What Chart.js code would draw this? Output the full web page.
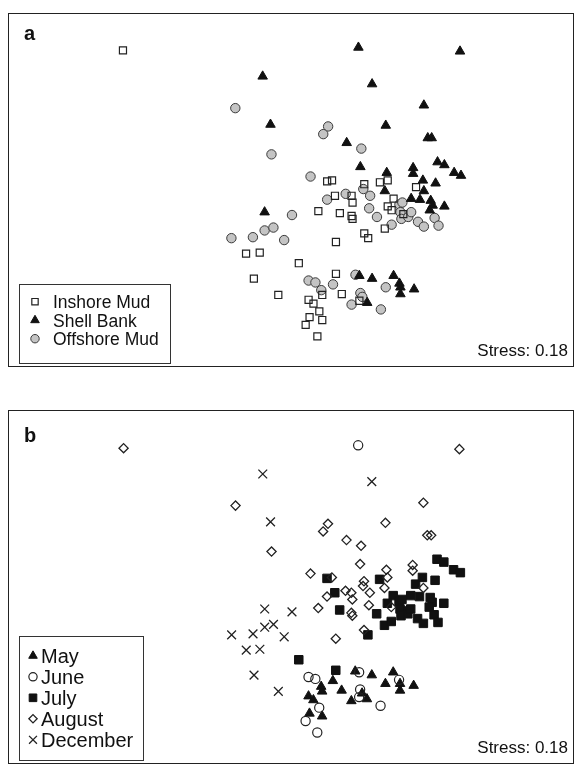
<!DOCTYPE html>
<html>
<head>
<meta charset="utf-8">
<script src="https://cdn.jsdelivr.net/npm/chart.js@4.4.0/dist/chart.umd.min.js"></script>
<style>
  body { margin: 0; background: #fff; }
  .panel { position: absolute; left: 8px; width: 564px; height: 352px; border: 1px solid #222; }
  #pa { top: 13px; }
  #pb { top: 410px; }
  canvas { display: block; }
</style>
</head>
<body>
<div class="panel" id="pa"><canvas id="chartA" width="564" height="352"></canvas></div>
<div class="panel" id="pb"><canvas id="chartB" width="564" height="352"></canvas></div>
<script>
// MDS ordination (plot units, y grows downwards)
const inshoreX = [119, 328, 333, 336, 319, 341, 353, 354, 366, 382, 390, 419, 353, 354, 396, 390, 394, 406, 387, 366, 370, 337, 245, 259, 299, 253, 337, 278, 309, 314, 323, 343, 320, 310, 323, 306, 318, 361];
const inshoreY = [45, 181, 180, 196, 212, 214, 217, 220, 184, 182, 180, 187, 196, 203, 199, 207, 211, 215, 230, 235, 240, 244, 256, 255, 266, 282, 277, 299, 304, 308, 299, 298, 316, 322, 325, 330, 342, 305];
const inshoreMonth = ['Aug', 'Jul', 'Aug', 'Jul', 'Aug', 'Jul', 'Aug', 'Aug', 'Aug', 'Jul', 'Aug', 'Jul', 'Aug', 'Aug', 'Jul', 'Jul', 'Aug', 'Jul', 'Jul', 'Aug', 'Jul', 'Aug', 'Dec', 'Dec', 'Jul', 'Dec', 'Jul', 'Dec', 'May', 'May', 'May', 'May', 'Jun', 'May', 'May', 'Jun', 'Jun', 'Jun'];

const shellX = [360, 464, 262, 374, 427, 270, 388, 348, 431, 435, 441, 448, 458, 465, 362, 389, 416, 416, 426, 439, 387, 427, 414, 423, 434, 436, 448, 433, 264, 361, 374, 396, 402, 403, 403, 417, 369];
const shellY = [42, 46, 72, 80, 102, 122, 123, 141, 136, 136, 161, 164, 172, 175, 166, 172, 167, 173, 180, 183, 191, 191, 199, 200, 201, 206, 207, 211, 213, 279, 282, 279, 287, 291, 298, 293, 307];
const shellMonth = ['Jun', 'Aug', 'Dec', 'Dec', 'Aug', 'Dec', 'Aug', 'Aug', 'Aug', 'Aug', 'Jul', 'Jul', 'Jul', 'Jul', 'Aug', 'Aug', 'Aug', 'Aug', 'Jul', 'Jul', 'Aug', 'Aug', 'Jul', 'Jul', 'Jul', 'Jul', 'Jul', 'Jul', 'Dec', 'Jun', 'May', 'May', 'Jun', 'May', 'May', 'May', 'May'];

const offshoreX = [234, 329, 324, 271, 363, 311, 347, 328, 292, 365, 372, 371, 379, 402, 405, 403, 404, 411, 414, 394, 421, 427, 438, 442, 230, 252, 264, 273, 284, 309, 316, 322, 334, 357, 388, 362, 364, 353, 383];
const offshoreY = [105, 124, 132, 153, 147, 176, 194, 200, 216, 189, 196, 209, 218, 205, 203, 213, 220, 218, 213, 226, 223, 228, 219, 227, 240, 239, 232, 229, 242, 284, 286, 294, 288, 278, 291, 297, 301, 309, 314];
const offshoreMonth = ['Aug', 'Aug', 'Aug', 'Aug', 'Aug', 'Aug', 'Aug', 'Aug', 'Dec', 'Aug', 'Aug', 'Aug', 'Jul', 'Jul', 'Jul', 'Jul', 'Jul', 'Jul', 'Jul', 'Jul', 'Jul', 'Jul', 'Jul', 'Jul', 'Dec', 'Dec', 'Dec', 'Dec', 'Dec', 'Jun', 'Jun', 'May', 'May', 'May', 'May', 'Jun', 'May', 'May', 'Jun'];

const habitatNames = ['Inshore Mud', 'Shell Bank', 'Offshore Mud'];
const monthCodes = ['May', 'Jun', 'Jul', 'Aug', 'Dec'];
const monthNames = ['May', 'June', 'July', 'August', 'December'];
const stress = '0.18';

const FONT = '"Liberation Sans", Arial, Helvetica, sans-serif';

// marker styles
const habitatStyle = [
  { pointStyle: 'rect', pointRadius: 5, backgroundColor: 'rgba(0,0,0,0)', borderColor: '#222', borderWidth: 1.2 },
  { pointStyle: 'triangle', pointRadius: 5.5, backgroundColor: '#111', borderColor: '#111', borderWidth: 1 },
  { pointStyle: 'circle', pointRadius: 4.7, backgroundColor: '#c4c4c4', borderColor: '#3a3a3a', borderWidth: 1 }
];
const monthStyle = [
  { pointStyle: 'triangle', pointRadius: 5.5, backgroundColor: '#111', borderColor: '#111', borderWidth: 1 },
  { pointStyle: 'circle', pointRadius: 4.6, backgroundColor: 'rgba(0,0,0,0)', borderColor: '#222', borderWidth: 1.2 },
  { pointStyle: 'rect', pointRadius: 6, backgroundColor: '#111', borderColor: '#111', borderWidth: 1 },
  { pointStyle: 'rectRot', pointRadius: 4.6, backgroundColor: 'rgba(0,0,0,0)', borderColor: '#222', borderWidth: 1.3 },
  { pointStyle: 'crossRot', pointRadius: 6.2, backgroundColor: '#222', borderColor: '#222', borderWidth: 1.3 }
];

const groupsX = [inshoreX, shellX, offshoreX];
const groupsY = [inshoreY, shellY, offshoreY];
const groupsMonth = [inshoreMonth, shellMonth, offshoreMonth];

function pts(xs, ys) {
  return xs.map((x, i) => ({ x: x, y: ys[i] }));
}

// panel a: by habitat
const drawOrderA = [1, 0, 2];   // triangles on top, then squares, circles below
const datasetsA = habitatNames.map((name, g) => Object.assign({
  label: name,
  data: pts(groupsX[g], groupsY[g]),
  order: drawOrderA[g]
}, habitatStyle[g]));

// panel b: the same samples, by month
const drawOrderB = [4, 2, 3, 1, 0];
const datasetsB = monthCodes.map((code, m) => {
  const data = [];
  groupsX.forEach((xs, g) => {
    xs.forEach((x, i) => {
      if (groupsMonth[g][i] === code) data.push({ x: x, y: groupsY[g][i] });
    });
  });
  return Object.assign({ label: monthNames[m], data: data, order: drawOrderB[m] }, monthStyle[m]);
});

const panelDecor = {
  id: 'panelDecor',
  afterDatasetsDraw(chart, args, opts) {
    const ctx = chart.ctx;
    ctx.save();
    ctx.fillStyle = '#111';
    ctx.textBaseline = 'alphabetic';
    ctx.textAlign = 'left';
    ctx.font = 'bold 20px ' + FONT;
    ctx.fillText(opts.tag, 15, opts.tagY);

    ctx.font = '17px ' + FONT;
    ctx.textAlign = 'right';
    ctx.fillText('Stress: ' + stress, 559, 342);

    const L = opts.legend;
    ctx.strokeStyle = '#333';
    ctx.lineWidth = 1;
    ctx.strokeRect(L.x + 0.5, L.y + 0.5, L.w, L.h);
    ctx.textAlign = 'left';
    ctx.font = L.size + 'px ' + FONT;
    chart.data.datasets.forEach((ds, i) => {
      const base = L.y + L.first + i * L.row;
      ctx.fillStyle = ds.backgroundColor;
      ctx.strokeStyle = ds.borderColor;
      ctx.lineWidth = ds.borderWidth;
      Chart.helpers.drawPoint(ctx, {
        pointStyle: ds.pointStyle,
        radius: ds.pointRadius * 0.9,
        borderWidth: ds.borderWidth,
        rotation: 0
      }, L.symX, base - L.size * 0.36);
      ctx.fillStyle = '#111';
      ctx.fillText(ds.label, L.textX, base);
    });
    ctx.restore();
  }
};

function makeChart(id, datasets, decor) {
  return new Chart(document.getElementById(id), {
    type: 'scatter',
    data: { datasets: datasets },
    options: {
      responsive: false,
      animation: false,
      events: [],
      layout: { padding: 0 },
      scales: {
        x: { type: 'linear', min: 9, max: 573, display: false },
        y: { type: 'linear', min: 14, max: 366, reverse: true, display: false }
      },
      plugins: {
        legend: { display: false },
        tooltip: { enabled: false },
        panelDecor: decor
      }
    },
    plugins: [panelDecor]
  });
}

makeChart('chartA', datasetsA, {
  tag: 'a', tagY: 26,
  legend: { x: 10, y: 270, w: 151, h: 79, first: 24, row: 18.5, size: 17.5, symX: 26, textX: 44 }
});
makeChart('chartB', datasetsB, {
  tag: 'b', tagY: 31,
  legend: { x: 10, y: 225, w: 124, h: 124, first: 27, row: 21, size: 20, symX: 24, textX: 32 }
});
</script>
</body>
</html>
